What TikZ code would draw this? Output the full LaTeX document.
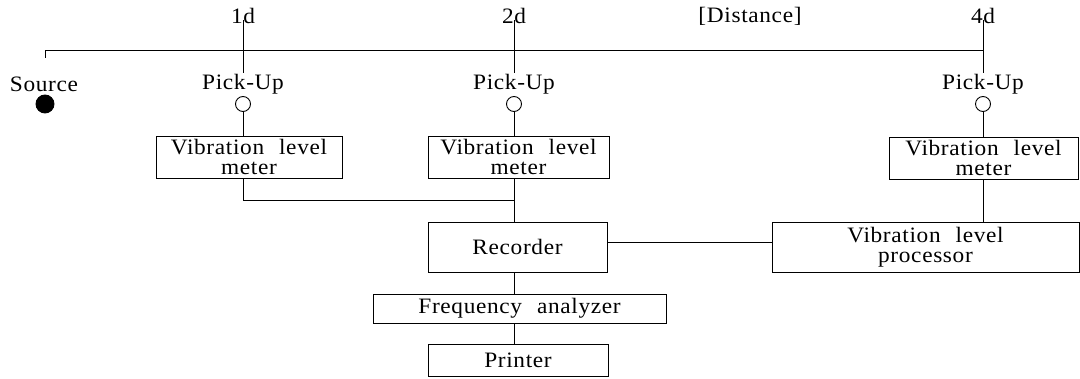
\documentclass[tikz,border=0pt]{standalone}
\usepackage{fontspec}
\setmainfont{Liberation Serif}[FakeStretch=1.06,LetterSpace=3,WordSpace=2.3]
\begin{document}
\begin{tikzpicture}[x=1pt,y=-1pt,
  font=\fontsize{22}{19.5}\selectfont,
  line width=0.9pt,
  lbl/.style={inner sep=1pt},
  box/.style={draw, inner sep=0pt, align=center},
  pick/.style={draw, circle, inner sep=0pt, minimum size=15pt},
  src/.style={draw, fill=black, circle, inner sep=0pt, minimum size=18pt}]
\useasboundingbox (0,0) rectangle (1080,379);
% labels
\node[lbl] (d1) at (243,16) {1d};
\node[lbl] (d2) at (514,16) {2d};
\node[lbl] (dist) at (750,16) {[Distance]};
\node[lbl] (d4) at (983,16) {4d};
\node[lbl] (srcl) at (44,84) {Source};
\node[lbl] (pu1) at (243,84) {Pick-Up};
\node[lbl] (pu2) at (514,84) {Pick-Up};
\node[lbl] (pu4) at (983,84) {Pick-Up};
\node[src] (s0) at (45,104) {};
\node[pick] (c1) at (243,104) {};
\node[pick] (c2) at (514,104) {};
\node[pick] (c4) at (983,104) {};
% boxes
\node[box, minimum width=186pt, minimum height=42pt] (vm1) at (249,157) {Vibration level\\meter};
\node[box, minimum width=181pt, minimum height=42pt] (vm2) at (518.5,157) {Vibration level\\meter};
\node[box, minimum width=189pt, minimum height=42pt] (vm4) at (983.5,158) {Vibration level\\meter};
\node[box, minimum width=179pt, minimum height=50pt] (rec) at (517.5,247) {Recorder};
\node[box, minimum width=307pt, minimum height=50pt] (vlp) at (925.5,247) {Vibration level\\processor};
\node[box, minimum width=293pt, minimum height=29pt] (fa) at (519.5,308.5) {Frequency analyzer};
\node[box, minimum width=180pt, minimum height=32pt] (pr) at (518,360) {Printer};
% coordinates
\coordinate (a0) at (45,50);
\coordinate (s1) at (45,58);
\coordinate (j) at (514,200);
\coordinate (rv) at (690,242);
% distance axis
\draw (s1) -- (a0) -- (d4.south |- a0);
\draw ([yshift=5pt]d1.south) -- (pu1.north);
\draw ([yshift=5pt]d2.south) -- (pu2.north);
\draw ([yshift=5pt]d4.south) -- (pu4.north);
% pick-ups to meters
\draw (c1.south) -- (c1.south |- vm1.north);
\draw (c2.south) -- (c2.south |- vm2.north);
\draw (c4.south) -- (c4.south |- vm4.north);
% signal chain
\draw (c1.south |- vm1.south) |- (j);
\draw (j |- vm2.south) -- (j |- rec.north);
\draw (j |- rec.south) -- (j |- fa.north);
\draw (j |- fa.south) -- (j |- pr.north);
\draw (c4.south |- vm4.south) -- (c4.south |- vlp.north);
\draw (rv -| rec.east) -- (rv -| vlp.west);
\end{tikzpicture}
\end{document}
